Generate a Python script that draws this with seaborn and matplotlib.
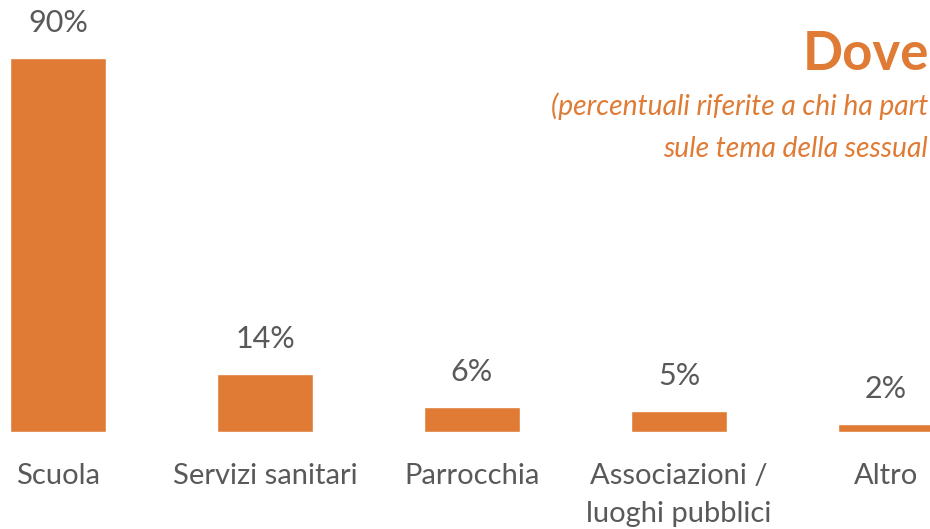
import matplotlib
matplotlib.use("Agg")
import matplotlib.pyplot as plt
import seaborn as sns
import pandas as pd

categories = ["Scuola", "Servizi sanitari", "Parrocchia", "Associazioni /\nluoghi pubblici", "Altro"]
values = [90, 14, 6, 5, 2]
value_labels = ["90%", "14%", "6%", "5%", "2%"]

# visible portions of the (cropped) title and subtitle
title_text = "Dove"
subtitle_line1 = "(percentuali riferite a chi ha part"
subtitle_line2 = "sule tema della sessual"

ORANGE = "#DF7B35"
GRAY = "#595959"

sns.set_theme(style="white")
plt.rcParams["font.family"] = ["Lato", "DejaVu Sans"]

W, H = 930, 529
fig = plt.figure(figsize=(W / 100, H / 100), dpi=100)
base_px = 432
ax = fig.add_axes([0, (H - base_px) / H, 1, base_px / H])

df = pd.DataFrame({"cat": categories, "val": values})
sns.barplot(data=df, x="cat", y="val", color=ORANGE, saturation=1, width=0.464, ax=ax)

px_per_unit = 374 / 90
spacing = 207
ax.set_ylim(0, base_px / px_per_unit)
ax.set_xlim(-58 / spacing, (W - 58) / spacing)

for cont in ax.containers:
    ax.bar_label(cont, labels=value_labels, padding=15, fontsize=22, color=GRAY)

ax.set_xlabel("")
ax.set_ylabel("")
ax.set_yticks([])
ax.tick_params(axis="x", length=0, pad=22, labelsize=21, labelcolor=GRAY)
for lab in ax.get_xticklabels():
    lab.set_linespacing(1.6)
    lab.set_verticalalignment("top")
for s in ax.spines.values():
    s.set_visible(False)

fig.text(803 / W, 1 - 70 / H, title_text, fontsize=38, fontweight="bold", color=ORANGE,
         ha="left", va="baseline")
fig.text(928 / W, 1 - 115 / H, subtitle_line1, fontsize=20.3, style="italic", color=ORANGE,
         ha="right", va="baseline")
fig.text(928 / W, 1 - 157 / H, subtitle_line2, fontsize=20.3, style="italic", color=ORANGE,
         ha="right", va="baseline")

fig.savefig("out.png", dpi=100)
